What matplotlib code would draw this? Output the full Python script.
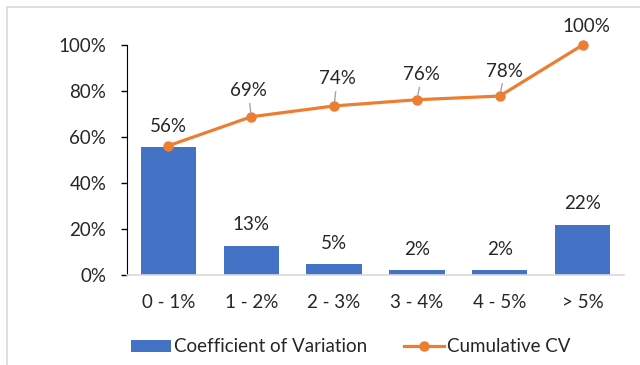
"""Pareto-style chart: share of items per coefficient-of-variation bucket plus cumulative line."""

import matplotlib

matplotlib.use("Agg")
import matplotlib.pyplot as plt  # noqa: E402
from matplotlib.patches import Rectangle  # noqa: E402

categories = ["0 - 1%", "1 - 2%", "2 - 3%", "3 - 4%", "4 - 5%", "> 5%"]
cv_share = [0.555, 0.127, 0.046, 0.020, 0.020, 0.218]
cumulative = [0.562, 0.688, 0.735, 0.762, 0.778, 1.0]

BLUE = "#4472C4"
ORANGE = "#ED7D31"
FS = 13.5
# label nudges (px) for the cumulative labels, mimicking the dragged Excel labels
cum_nudge = [(0, 19), (-3, 26), (3, 27), (5, 25), (5, 25), (4, 18)]

plt.rcParams["font.family"] = ["Lato", "DejaVu Sans"]
fig = plt.figure(figsize=(6.4, 3.65), dpi=100)
ax = fig.add_axes([127 / 640, 1 - 275 / 365, 497 / 640, 230 / 365])

x = range(len(categories))
bars = ax.bar(x, cv_share, width=0.67, color=BLUE, zorder=2, label="Coefficient of Variation")
line, = ax.plot(x, cumulative, color=ORANGE, lw=2.3, marker="o", ms=6.5, zorder=3,
                clip_on=False, label="Cumulative CV")

pt = 72 / fig.dpi
for i, v in enumerate(cv_share):
    if i == 0:  # hidden under the cumulative label in the original
        continue
    ax.annotate(f"{v:.0%}", (i, v), xytext=(0, 21 * pt), textcoords="offset points",
                ha="center", va="center", fontsize=FS, color="#262626")
for i, v in enumerate(cumulative):
    dx, dy = cum_nudge[i]
    arrow = None
    if dy > 22:  # leader line for moved labels
        arrow = dict(arrowstyle="-", color="#a5a5a5", lw=1, shrinkA=1, shrinkB=3)
    ax.annotate(f"{v:.0%}", (i, v), xytext=(dx * pt, dy * pt), textcoords="offset points",
                ha="center", va="center", fontsize=FS, color="#262626", arrowprops=arrow)

ax.set_xlim(-0.5, len(categories) - 0.5)
ax.set_ylim(0, 1)
ax.set_yticks([0, 0.2, 0.4, 0.6, 0.8, 1.0])
ax.set_yticklabels([f"{t:.0%}" for t in ax.get_yticks()])
ax.set_xticks(list(x))
ax.set_xticklabels(categories)
ax.tick_params(axis="y", length=4, width=1, pad=11, labelsize=FS, labelcolor="#262626")
ax.tick_params(axis="x", length=0, pad=14, labelsize=FS, labelcolor="#262626")
for side in ("top", "right"):
    ax.spines[side].set_visible(False)
ax.spines["left"].set_color("black")
ax.spines["bottom"].set_color("#d9d9d9")
ax.spines["bottom"].set_linewidth(1.2)

fig.legend([bars, line], ["Coefficient of Variation", "Cumulative CV"],
           loc="center", bbox_to_anchor=(0.548, 1 - 347 / 365), ncol=2, frameon=False,
           fontsize=FS, handlelength=2.1, handletextpad=0.15, columnspacing=2.0,
           handleheight=0.65, labelcolor="#262626")

# light chart-area border, running off the right and bottom edges
fig.patches.append(Rectangle((7 / 640, -0.2), 1.2, 1.2 - 7 / 365, transform=fig.transFigure,
                             fill=False, edgecolor="#d9d9d9", lw=1.2))

fig.savefig("out.png", dpi=100)
